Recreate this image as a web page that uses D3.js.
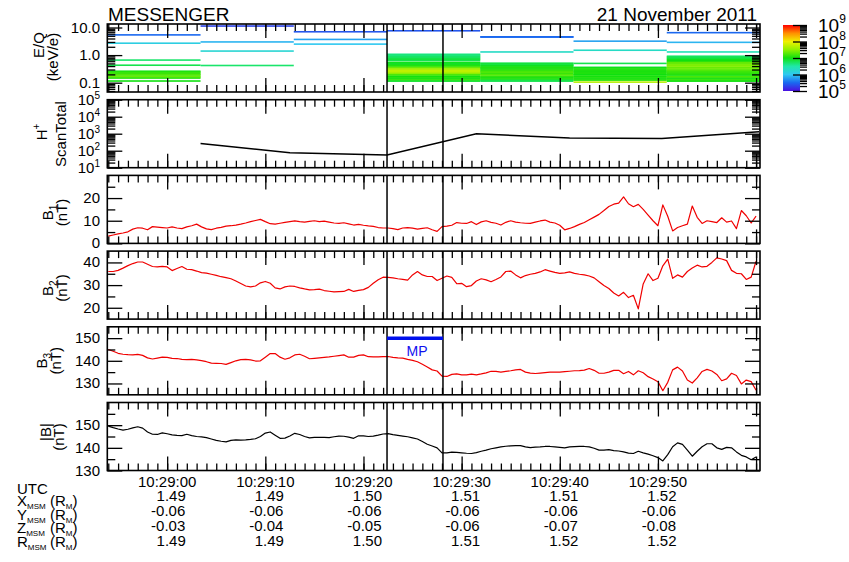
<!DOCTYPE html>
<html>
<head>
<meta charset="utf-8">
<script src="https://cdn.jsdelivr.net/npm/d3@7"></script>
<style>
  body { margin: 0; background: #fff; }
  text { font-family: "Liberation Sans", Arial, Helvetica, sans-serif; fill: #000; }
</style>
</head>
<body>
<svg id="chart" width="849" height="562"></svg>
<script>
// all times are seconds after 10:28:00 UTC, 21 Nov 2011
const t0 = Date.UTC(2011, 10, 21, 10, 28, 0);
const toDate = s => new Date(t0 + s * 1000);

// ---- data ----
const utcTicks = [60, 70, 80, 90, 100, 110];
const utcLabels = ["10:29:00", "10:29:10", "10:29:20", "10:29:30", "10:29:40", "10:29:50"];
const xMsm = [1.49, 1.49, 1.50, 1.51, 1.51, 1.52];
const yMsm = [-0.06, -0.06, -0.06, -0.06, -0.06, -0.06];
const zMsm = [-0.03, -0.04, -0.05, -0.06, -0.07, -0.08];
const rMsm = [1.49, 1.49, 1.50, 1.51, 1.52, 1.52];

// FIPS scans: boundaries (s) and [E keV/e, log10 flux] lines per scan
const scanEdges = [53.9, 63.4, 72.9, 82.4, 91.9, 101.4, 110.9, 120.4];
const scan1 = [[5.4,5.5],[2.7,6.1],[0.66,6.7],[0.43,6.8],[0.26,7.0],[0.24,7.1],[0.22,7.2],[0.20,7.1],[0.19,7.3],[0.17,7.2],[0.16,7.4],[0.147,7.1],[0.115,7.0]];
const scan2 = [[11.3,5.3],[3.0,5.9],[1.4,6.2],[0.42,6.7]];
const scan3 = [[7.0,5.4],[3.7,5.8],[2.5,6.0]];
const scan4 = [[7.6,5.4],[1.07,6.6],[0.99,6.7],[0.91,6.6],[0.84,6.8],[0.77,6.7],[0.71,6.9],[0.65,6.8],[0.55,6.9],[0.51,7.0],[0.47,6.9],[0.43,7.0],[0.40,7.1],[0.36,7.2],[0.34,7.4],[0.31,7.6],[0.28,7.7],[0.26,7.8],[0.24,7.7],[0.22,7.6],[0.20,7.4],[0.19,7.2],[0.17,7.1],[0.16,7.0],[0.147,7.1],[0.135,7.0],[0.124,7.2],[0.114,6.9]];
const scan5 = [[4.6,5.5],[4.5,5.5],[1.3,6.3],[0.51,6.8],[0.47,6.9],[0.43,6.8],[0.40,7.0],[0.36,7.0],[0.34,7.1],[0.31,7.0],[0.28,7.2],[0.26,7.1],[0.24,7.3],[0.22,7.2],[0.20,7.1],[0.19,7.3],[0.17,7.2],[0.16,7.1],[0.147,7.0],[0.135,7.1],[0.124,6.9],[0.114,6.8]];
const scan6 = [[3.2,5.8],[1.5,6.3],[0.50,6.8],[0.36,6.9],[0.34,7.0],[0.31,7.1],[0.28,7.0],[0.26,7.1],[0.24,7.0],[0.22,7.1],[0.20,7.0],[0.19,7.0],[0.17,7.1],[0.16,7.0],[0.147,7.1],[0.135,7.0],[0.124,7.1],[0.105,7.7]];
const scan7 = [[6.5,5.5],[2.9,5.9],[1.3,6.4],[0.91,6.7],[0.84,6.8],[0.77,6.8],[0.71,6.9],[0.65,7.0],[0.60,7.0],[0.55,7.2],[0.51,7.4],[0.47,7.3],[0.43,7.5],[0.40,7.4],[0.36,7.5],[0.34,7.3],[0.31,7.4],[0.28,7.2],[0.26,7.3],[0.24,7.1],[0.22,7.2],[0.20,7.0],[0.19,7.1],[0.17,7.0],[0.16,7.3],[0.147,7.1],[0.135,7.0],[0.124,7.2],[0.114,7.0]];
const scans = [scan1, scan2, scan3, scan4, scan5, scan6, scan7];

// H+ scan totals, one per scan
const hTimes = [63.4, 72.5, 82.4, 91.5, 101.0, 110.4, 120.3];
const hTotal = [263, 77, 56, 980, 562, 515, 1290];

// colour table for log10 flux
const fluxStops = [5, 5.5, 6, 6.5, 7, 7.5, 8, 8.5, 9];
const fluxColors = ["#4a10e0", "#1a68f0", "#30c8f0", "#20e8a8", "#10e010", "#90f000", "#f0f000", "#ff9000", "#ff0000"];

// magnetometer samples every 0.5 s from 54.0 to 120.0 s
const bTimes = d3.range(54, 120.01, 0.5);
const b1 = [3.2,3.7,4.2,4.6,5.1,6.3,6.9,6.7,6.0,7.4,
  7.2,7.0,6.8,7.3,6.8,6.5,7.3,7.8,8.5,7.3,
  6.4,6.1,6.7,7.1,7.6,7.8,8.1,8.5,9.0,9.6,
  10.1,10.6,9.6,8.7,8.5,8.9,9.3,9.6,9.9,9.6,
  9.4,9.7,10.0,9.6,9.8,9.4,9.0,8.8,9.1,8.6,
  8.1,8.4,8.0,7.7,7.5,7.0,6.8,6.8,6.5,6.1,
  6.8,7.0,6.7,6.3,6.6,6.9,
  6.0,5.3,7.4,7.6,8.0,9.2,8.9,8.8,9.6,8.3,
  9.5,10.0,9.3,8.9,8.1,9.3,10.0,9.4,9.1,8.9,
  8.8,9.4,9.9,10.3,9.4,9.0,8.0,6.0,6.6,7.4,
  8.4,9.2,10.4,11.6,12.8,14.5,16.3,17.3,17.8,20.5,
  17.5,16.2,17.2,15.0,12.5,10.0,7.8,17.0,12.0,5.5,
  7.0,7.8,8.5,16.5,11.5,8.8,10.0,9.6,9.2,11.3,
  9.4,9.9,6.5,14.5,12.2,9.0,12.0];
const b2 = [36.0,36.0,36.5,37.5,38.6,39.5,40.2,40.2,39.2,38.2,
  38.0,38.3,38.0,36.4,37.3,38.2,37.0,36.8,36.2,35.5,
  35.3,34.8,34.3,33.7,33.3,32.8,31.8,30.7,29.6,29.2,
  29.6,31.0,31.6,30.8,28.8,28.3,29.2,29.6,29.4,28.8,
  28.3,27.9,28.0,28.2,27.6,27.3,27.0,27.1,27.2,28.1,
  27.2,27.7,28.0,29.0,30.8,32.4,33.5,33.4,33.2,32.8,
  32.5,32.2,34.5,36.0,34.5,33.8,
  33.8,32.0,33.0,34.0,33.4,30.6,30.8,29.3,29.8,31.8,
  32.8,32.3,31.5,32.5,33.6,36.0,36.2,34.5,33.2,34.2,
  34.8,35.2,35.8,36.8,36.2,35.6,35.2,35.4,35.8,35.2,
  34.8,34.5,34.0,33.2,31.5,29.8,28.5,26.5,25.2,26.8,
  24.5,25.5,19.5,30.5,35.0,32.0,33.0,38.5,41.5,33.0,
  34.5,33.5,36.0,37.5,38.8,38.0,38.3,40.0,42.0,41.5,
  40.8,36.5,35.2,35.0,32.5,33.5,40.5];
const b3 = [145.0,144.2,143.3,142.9,142.7,142.6,142.8,142.4,141.3,140.8,
  141.2,141.6,141.5,141.1,141.0,140.6,140.5,140.6,140.4,140.1,
  139.6,139.0,138.9,138.8,138.4,139.2,140.0,140.5,140.6,140.4,
  139.9,140.0,141.6,143.2,143.2,141.6,140.7,141.3,142.6,142.9,
  142.0,140.9,141.1,141.3,141.5,141.7,142.0,142.3,142.6,141.6,
  141.6,142.4,142.6,141.8,141.7,141.7,141.8,141.9,141.5,141.3,
  141.2,140.6,140.2,139.6,138.5,137.3,
  136.0,135.5,133.2,133.1,134.0,134.2,133.8,133.8,134.1,133.8,
  134.2,134.7,135.4,135.3,135.0,135.3,135.6,136.0,136.2,135.0,
  134.6,134.4,134.6,134.8,135.0,135.0,135.0,135.2,135.4,135.6,
  135.7,135.9,136.6,135.8,134.5,134.5,135.0,135.8,135.8,134.3,
  135.3,133.8,135.6,134.7,133.0,132.0,130.8,126.8,130.5,136.0,
  137.2,135.5,131.5,130.2,132.5,135.3,136.2,135.5,134.0,131.2,
  132.0,134.5,133.5,129.8,131.5,130.8,127.0];
const bMag = [149.6,148.9,148.3,147.8,148.2,148.8,149.3,148.7,147.0,146.0,
  145.9,146.6,146.2,145.7,145.5,145.4,146.0,145.4,145.0,144.8,
  144.5,143.9,143.3,142.9,142.6,143.3,143.5,143.4,143.5,143.7,
  144.0,145.0,146.5,147.0,145.6,144.2,144.3,145.2,146.4,145.9,
  145.0,144.4,144.6,144.6,144.6,144.5,144.9,145.2,145.1,144.7,
  144.2,145.3,145.3,145.0,145.2,145.6,146.1,146.3,145.8,145.5,
  145.2,144.9,144.4,143.9,142.8,141.6,
  140.8,140.0,137.8,137.8,138.1,138.0,137.8,137.6,137.5,137.9,
  138.5,139.0,139.6,140.0,140.4,140.7,140.9,141.0,141.0,140.4,
  140.1,140.3,140.4,140.6,140.6,140.4,140.2,140.0,140.4,140.5,
  140.6,140.6,140.4,139.8,139.0,139.0,139.2,138.8,138.6,138.2,
  137.7,137.5,138.5,137.8,137.2,136.5,135.7,134.2,137.0,140.5,
  142.2,141.5,139.0,136.3,138.5,140.5,141.8,141.8,140.0,139.3,
  140.2,140.0,138.2,136.7,136.0,134.7,136.0];

// magnetopause crossing
const eventTimes = [82.4, 88.1];
const mpLevel = 150;

// ---- layout ----
const svg = d3.select("#chart");
const X0 = 107.3, X1 = 760, PH = 68;
const tops = [24, 99.7, 175.4, 251.1, 326.8, 402.5];
const bottoms = tops.map(t => t + PH);

const x = d3.scaleUtc().domain([toDate(53.9), toDate(120.4)]).range([X0, X1]);
const color = d3.scaleLinear().domain(fluxStops).range(fluxColors).clamp(true);

const eqY = d3.scaleLog().domain([0.046, 13.4]).range([bottoms[0], tops[0]]);
const hY = d3.scaleLog().domain([10, 1e5]).range([bottoms[1], tops[1]]);
const b1Y = d3.scaleLinear().domain([0, 30]).range([bottoms[2], tops[2]]);
const b2Y = d3.scaleLinear().domain([15, 45]).range([bottoms[3], tops[3]]);
const b3Y = d3.scaleLinear().domain([125, 155]).range([bottoms[4], tops[4]]);
const bmY = d3.scaleLinear().domain([130, 160]).range([bottoms[5], tops[5]]);

// clip paths, one per panel
const defs = svg.append("defs");
tops.forEach((t, i) => {
  defs.append("clipPath").attr("id", "clip" + i)
    .append("rect").attr("x", X0).attr("y", t).attr("width", X1 - X0).attr("height", PH);
});

function noDomain(a) { a.select(".domain").remove(); }

function timeTicks(i) {
  const g = svg.append("g").attr("stroke-width", 1.3);
  const minor = x.ticks(d3.utcSecond.every(1));
  const major = x.ticks(d3.utcSecond.every(10));
  [[minor, 7], [major, 14]].forEach(([vals, len]) => {
    g.append("g").attr("transform", `translate(0,${bottoms[i]})`)
      .call(d3.axisBottom(x).tickValues(vals).tickSize(-len).tickSizeOuter(0).tickFormat(""))
      .call(noDomain);
    g.append("g").attr("transform", `translate(0,${tops[i]})`)
      .call(d3.axisTop(x).tickValues(vals).tickSize(-len).tickSizeOuter(0).tickFormat(""))
      .call(noDomain);
  });
}

function yTicks(scale, majors, minors) {
  const g = svg.append("g").attr("stroke-width", 1.3);
  [[minors, 8], [majors, 15]].forEach(([vals, len]) => {
    g.append("g").attr("transform", `translate(${X0},0)`)
      .call(d3.axisLeft(scale).tickValues(vals).tickSize(-len).tickSizeOuter(0).tickFormat(""))
      .call(noDomain);
    g.append("g").attr("transform", `translate(${X1},0)`)
      .call(d3.axisRight(scale).tickValues(vals).tickSize(-len).tickSizeOuter(0).tickFormat(""))
      .call(noDomain);
  });
}

function yLabels(scale, vals, fmt) {
  vals.forEach(v => {
    svg.append("text").attr("x", 100).attr("y", scale(v) + 5)
      .attr("text-anchor", "end").attr("font-size", 15).text(fmt(v));
  });
}

function powLabels(scale, exps, xEnd, size, supSize, supDy) {
  exps.forEach(e => {
    const t = svg.append("text").attr("x", xEnd).attr("y", scale(Math.pow(10, e)) + 5)
      .attr("text-anchor", "end").attr("font-size", size);
    t.append("tspan").text("10");
    t.append("tspan").attr("font-size", supSize).attr("dy", supDy).text(e);
  });
}

function logMinors(lo, hi) {
  const out = [];
  for (let d = Math.floor(Math.log10(lo)); d <= Math.ceil(Math.log10(hi)); d++) {
    for (let k = 2; k <= 9; k++) {
      const v = k * Math.pow(10, d);
      if (v > lo && v < hi) out.push(v);
    }
  }
  return out;
}

function vTitle(bx, cy, build) {
  const t = svg.append("text").attr("transform", `translate(${bx},${cy}) rotate(-90)`)
    .attr("text-anchor", "middle").attr("font-size", 15);
  build(t);
}

function eventLines(i) {
  eventTimes.forEach(s => {
    svg.append("line").attr("x1", x(toDate(s))).attr("x2", x(toDate(s)))
      .attr("y1", tops[i]).attr("y2", bottoms[i])
      .attr("stroke", "#000").attr("stroke-width", 1.5);
  });
}

function frame(i) {
  svg.append("rect").attr("x", X0).attr("y", tops[i]).attr("width", X1 - X0).attr("height", PH)
    .attr("fill", "none").attr("stroke", "#000").attr("stroke-width", 1.6);
}

// ---- panel 0: E/Q spectrogram ----
const gEq = svg.append("g").attr("clip-path", "url(#clip0)");
scans.forEach((lines, i) => {
  const xa = x(toDate(scanEdges[i])), xb = x(toDate(scanEdges[i + 1]));
  gEq.selectAll(null).data(lines).enter().append("rect")
    .attr("x", xa).attr("width", xb - xa)
    .attr("y", d => eqY(d[0]) - 0.8).attr("height", 1.6)
    .attr("fill", d => color(d[1]));
});
timeTicks(0);
yTicks(eqY, [0.1, 1, 10], logMinors(0.046, 13.4));
yLabels(eqY, [10, 1, 0.1], v => v.toFixed(1));
eventLines(0);
frame(0);
vTitle(43.5, 45, t => t.text("E/Q"));
vTitle(58, 57, t => t.text("(keV/e)"));

// ---- panel 1: H+ scan total ----
svg.append("path")
  .datum(hTimes.map((s, i) => [s, hTotal[i]]))
  .attr("clip-path", "url(#clip1)")
  .attr("fill", "none").attr("stroke", "#000").attr("stroke-width", 1.5)
  .attr("d", d3.line().x(d => x(toDate(d[0]))).y(d => hY(d[1])));
timeTicks(1);
yTicks(hY, [10, 100, 1e3, 1e4, 1e5], logMinors(10, 1e5));
powLabels(hY, [1, 2, 3, 4, 5], 100, 15, 10, -6);
eventLines(1);
frame(1);
vTitle(46.5, 132, t => { t.append("tspan").text("H"); t.append("tspan").attr("font-size", 10).attr("dy", -7).text("+"); });
vTitle(66, 134, t => t.text("ScanTotal"));

// ---- magnetic field panels ----
const bPanels = [
  { i: 2, y: b1Y, vals: b1, stroke: "#f00000", majors: [0, 10, 20], minors: [5, 15, 25], sub: "1" },
  { i: 3, y: b2Y, vals: b2, stroke: "#f00000", majors: [20, 30, 40], minors: [25, 35], sub: "2" },
  { i: 4, y: b3Y, vals: b3, stroke: "#f00000", majors: [130, 140, 150], minors: [135, 145], sub: "3" },
  { i: 5, y: bmY, vals: bMag, stroke: "#000", majors: [130, 140, 150], minors: [135, 145, 155], sub: null }
];
bPanels.forEach(p => {
  svg.append("path")
    .datum(bTimes.map((s, k) => [s, p.vals[k]]))
    .attr("clip-path", `url(#clip${p.i})`)
    .attr("fill", "none").attr("stroke", p.stroke).attr("stroke-width", 1.2)
    .attr("stroke-linejoin", "round")
    .attr("d", d3.line().x(d => x(toDate(d[0]))).y(d => p.y(d[1])));
  timeTicks(p.i);
  yTicks(p.y, p.majors, p.minors);
  yLabels(p.y, p.majors, v => String(v));
  eventLines(p.i);
  frame(p.i);
});

// axis titles of field panels
[[2, 53, 67, 3], [3, 53, 67, 3], [4, 47, 61, 0]].forEach(([i, bx1, bx2, dc]) => {
  const cy = (tops[i] + bottoms[i]) / 2 + dc;
  vTitle(bx1, cy, t => {
    t.append("tspan").text("B");
    t.append("tspan").attr("font-size", 10).attr("dy", 4).text(bPanels[i - 2].sub);
  });
  vTitle(bx2, cy, t => t.text("(nT)"));
});
vTitle(51, 432, t => t.text("|B|"));
vTitle(64, 437, t => t.text("(nT)"));

// MP interval marker
svg.append("line")
  .attr("x1", x(toDate(eventTimes[0]))).attr("x2", x(toDate(eventTimes[1])))
  .attr("y1", b3Y(mpLevel)).attr("y2", b3Y(mpLevel))
  .attr("stroke", "#0010ee").attr("stroke-width", 3.5);
svg.append("text")
  .attr("x", (x(toDate(eventTimes[0])) + x(toDate(eventTimes[1]))) / 2 + 2)
  .attr("y", b3Y(mpLevel) + 18)
  .attr("text-anchor", "middle").attr("font-size", 14)
  .style("fill", "#1010ee").text("MP");

// ---- titles ----
svg.append("text").attr("x", 108).attr("y", 20.7).attr("font-size", 19).text("MESSENGER");
svg.append("text").attr("x", 757).attr("y", 20.7).attr("font-size", 19)
  .attr("text-anchor", "end").text("21 November 2011");

// ---- colour bar ----
const cbY = d3.scaleLinear().domain([5, 9]).range([91, 25]);
const grad = defs.append("linearGradient").attr("id", "cbgrad")
  .attr("x1", 0).attr("y1", 1).attr("x2", 0).attr("y2", 0);
fluxStops.forEach((v, k) => {
  grad.append("stop").attr("offset", (v - 5) / 4).attr("stop-color", fluxColors[k]);
});
svg.append("rect").attr("x", 783).attr("y", cbY(9)).attr("width", 17)
  .attr("height", cbY(5) - cbY(9)).attr("fill", "url(#cbgrad)");
const cbMinor = logMinors(1e5, 1e9).map(v => Math.log10(v));
const gcb = svg.append("g").attr("stroke-width", 1.3);
[[cbMinor, 7], [[5, 6, 7, 8, 9], 14]].forEach(([vals, len]) => {
  gcb.append("g").attr("transform", "translate(807,0)")
    .call(d3.axisRight(cbY).tickValues(vals).tickSize(-len).tickSizeOuter(0).tickFormat(""))
    .call(noDomain);
});
[5, 6, 7, 8, 9].forEach(e => {
  const t = svg.append("text").attr("x", 818).attr("y", cbY(e) + 7).attr("font-size", 19);
  t.append("tspan").text("10");
  t.append("tspan").attr("font-size", 12).attr("dy", -9).text(e);
});

// ---- ephemeris rows under the time axis ----
utcTicks.forEach((s, k) => {
  svg.append("text").attr("x", x(toDate(s))).attr("y", 486.7)
    .attr("text-anchor", "middle").attr("font-size", 15).text(utcLabels[k]);
});
const rows = [xMsm, yMsm, zMsm, rMsm];
const rowBase = [500.7, 515.5, 530.7, 546];
rows.forEach((vals, r) => {
  vals.forEach((v, k) => {
    svg.append("text").attr("x", x(toDate(utcTicks[k])) + (v < 0 ? 1 : 4)).attr("y", rowBase[r])
      .attr("text-anchor", "middle").attr("font-size", 15).text(v.toFixed(2));
  });
});
svg.append("text").attr("x", 17).attr("y", 494).attr("font-size", 15).text("UTC");
const rowNames = ["X", "Y", "Z", "R"];
const nameBase = [506, 519.5, 533, 547];
rowNames.forEach((n, r) => {
  const t = svg.append("text").attr("x", 17).attr("y", nameBase[r]).attr("font-size", 15);
  t.append("tspan").text(n);
  t.append("tspan").attr("font-size", 8).attr("dy", 3).text("MSM");
  t.append("tspan").attr("x", 50).attr("dy", -3).text("(R");
  t.append("tspan").attr("font-size", 8).attr("dy", 3).text("M");
  t.append("tspan").attr("dy", -3).text(")");
});
</script>
</body>
</html>
